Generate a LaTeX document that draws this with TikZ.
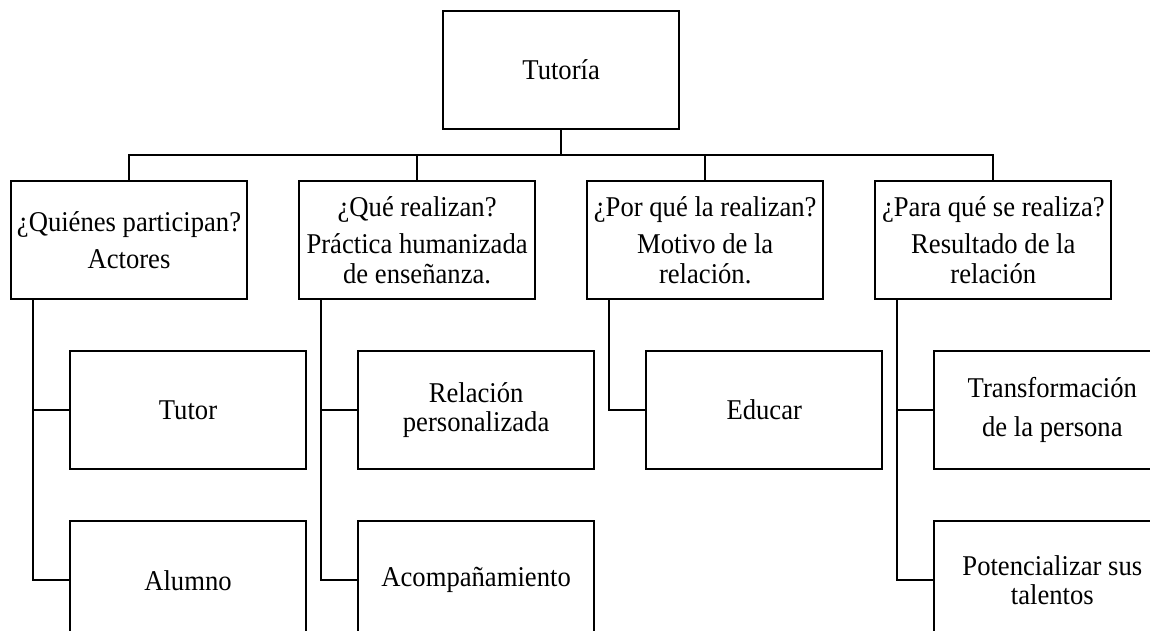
\documentclass[tikz,border=0pt]{standalone}
\usepackage{fontspec}
\setmainfont{Liberation Serif}[FakeStretch=0.93]
\usetikzlibrary{positioning}

\begin{document}
\begin{tikzpicture}[node distance=1cm, line width=1.2pt, font=\fontsize{16.3pt}{16.8pt}\selectfont]
  \tikzset{
    box/.style={rectangle, draw=black, minimum width=4.72cm, minimum height=2.36cm, inner xsep=2pt, align=center},
    subbox/.style={anchor=north west, xshift=1.18cm}
  }

  \path[use as bounding box, clip] (-2.58,4.8) rectangle (20.42,-7.82);

  \node[box] (quien) {¿Quiénes participan?\\[4.5pt] Actores};
  \node[box] (que) [right=of quien] {¿Qué realizan?\\[4.5pt] Práctica humanizada\\ de enseñanza.};
  \node[box] (porque) [right=of que] {¿Por qué la realizan?\\[4.5pt] Motivo de la\\ relación.};
  \node[box] (para) [right=of porque] {¿Para qué se realiza?\\[4.5pt] Resultado de la\\ relación};

  \node[box] (tut) [above=of que.north east, xshift=0.5cm] {Tutoría};

  \node[box] (tutor) [below=of quien.south west, subbox] {Tutor};
  \node[box] (alumno) [below=of tutor] {Alumno};

  \node[box] (relacion) [below=of que.south west, subbox] {Relación\\ personalizada};
  \node[box] (acomp) [below=of relacion] {Acompañamiento};

  \node[box] (educar) [below=of porque.south west, subbox] {Educar};

  \node[box] (transf) [below=of para.south west, subbox] {Transformación\\[5pt] de la persona};
  \node[box] (potenc) [below=of transf] {Potencializar sus\\ talentos};

  \coordinate (quientrunk) at ([xshift=0.46cm]quien.south west);
  \coordinate (quetrunk) at ([xshift=0.46cm]que.south west);
  \coordinate (porquetrunk) at ([xshift=0.46cm]porque.south west);
  \coordinate (paratrunk) at ([xshift=0.46cm]para.south west);

  \draw (tut.south) -- +(0,-0.5) -| (quien.north);
  \draw (tut.south) -- +(0,-0.5) -| (que.north);
  \draw (tut.south) -- +(0,-0.5) -| (porque.north);
  \draw (tut.south) -- +(0,-0.5) -| (para.north);

  \draw (quientrunk) |- (tutor.west);
  \draw (quientrunk) |- (alumno.west);
  \draw (quetrunk) |- (relacion.west);
  \draw (quetrunk) |- (acomp.west);
  \draw (porquetrunk) |- (educar.west);
  \draw (paratrunk) |- (transf.west);
  \draw (paratrunk) |- (potenc.west);

\end{tikzpicture}
\end{document}
